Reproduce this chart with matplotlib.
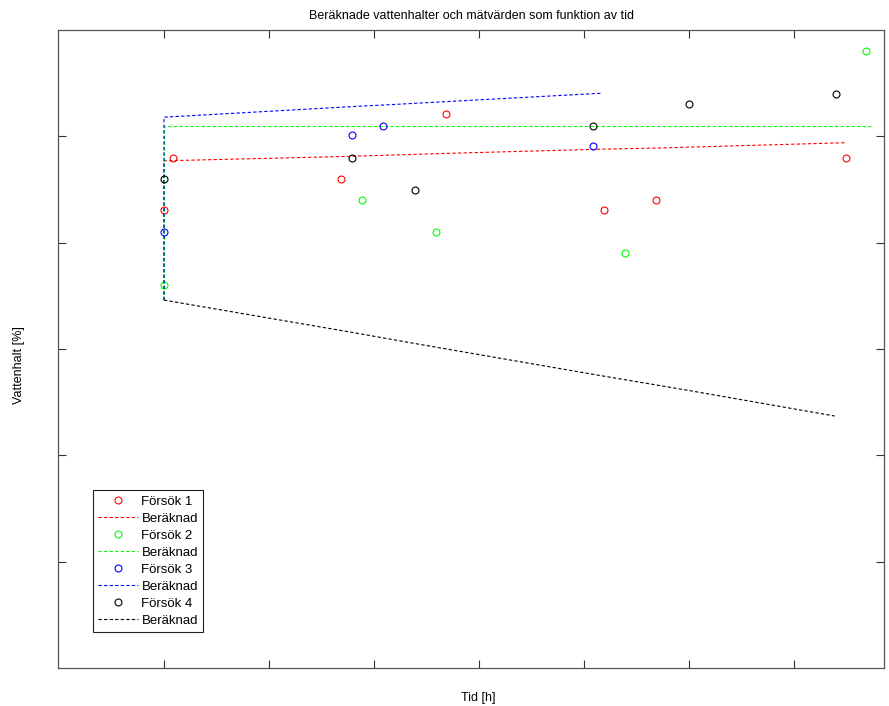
import numpy as np
import matplotlib.pyplot as plt

plt.rcParams['font.family'] = ['Liberation Sans', 'DejaVu Sans']

# measured values (time in h, water content in %)
t1 = [0, 0.9, 16.9, 26.9, 41.9, 46.9, 65.0]
v1 = [43.1, 48.0, 46.0, 52.1, 43.1, 44.0, 48.0]
t2 = [0, 18.9, 25.9, 43.9, 66.9]
v2 = [36.0, 44.0, 41.0, 39.0, 58.0]
t3 = [0, 17.9, 20.9, 40.9]
v3 = [41.0, 50.1, 51.0, 49.1]
t4 = [0, 17.9, 23.9, 40.9, 50.0, 64.0]
v4 = [46.0, 48.0, 45.0, 51.0, 53.0, 54.0]

# computed curves
c1_t = [0, 0, 17, 27, 42, 47, 64.9]
c1_v = [34.6, 47.7, 48.1, 48.4, 48.8, 48.9, 49.4]
c2_t = [0, 0, 67.4]
c2_v = [34.6, 51.0, 51.0]
c3_t = [0, 0, 18, 21, 41.6]
c3_v = [34.6, 51.8, 52.8, 52.95, 54.05]
c4_t = [0, 18, 24, 41, 50, 63.9]
c4_v = [34.6, 31.55, 30.5, 27.6, 26.1, 23.7]

fig = plt.figure(figsize=(8.89, 7.06), dpi=100)
ax = fig.add_axes([0.0658, 0.0538, 0.9286, 0.9037])

dash = (0, (3, 2))
series = [
    (t1, v1, c1_t, c1_v, (1, 0, 0), 'Försök 1'),
    (t2, v2, c2_t, c2_v, (0, 1, 0), 'Försök 2'),
    (t3, v3, c3_t, c3_v, (0, 0, 1), 'Försök 3'),
    (t4, v4, c4_t, c4_v, (0, 0, 0), 'Försök 4'),
]
for t, v, ct, cv, col, name in series:
    ax.plot(t, v, 'o', mfc='none', mec=col, ms=5, mew=0.8, label=name)
    ax.plot(ct, cv, color=col, ls=dash, lw=0.8, label='Beräknad')

ax.set_xlim(-10.05, 68.6)
ax.set_ylim(0, 60)
ax.set_xticks(np.arange(0, 70, 10))
ax.set_yticks(np.arange(10, 60, 10))
ax.set_xticklabels([])
ax.set_yticklabels([])
ax.tick_params(direction='in', length=6, width=0.8, color='#333333',
               top=True, right=True)
for s in ax.spines.values():
    s.set_color('#555555')
    s.set_linewidth(0.9)

ax.set_title('Beräknade vattenhalter och mätvärden som funktion av tid',
             fontsize=9, pad=8)
ax.set_xlabel('Tid [h]', fontsize=9)
ax.set_ylabel('Vattenhalt [%]', fontsize=9)
ax.xaxis.set_label_coords(0.508, -0.037)
ax.yaxis.set_label_coords(-0.041, 0.475)

leg = ax.legend(loc='lower left', bbox_to_anchor=(0.0414, 0.0564),
                borderaxespad=0, fontsize=9.5, fancybox=False, framealpha=1,
                edgecolor='#222222', handlelength=3.0, handletextpad=0.3,
                labelspacing=0.36, borderpad=0.4)
leg.get_frame().set_linewidth(0.8)

fig.savefig('out.png', dpi=100)
